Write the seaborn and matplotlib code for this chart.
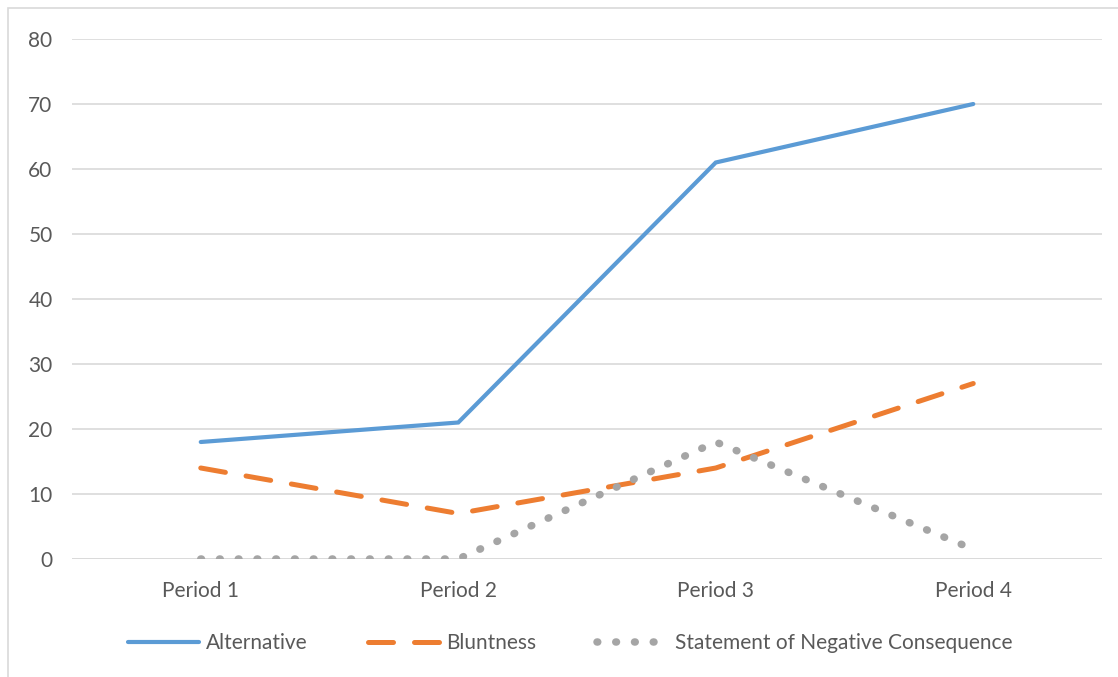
import matplotlib
matplotlib.use("Agg")
import matplotlib.pyplot as plt
import seaborn as sns
import pandas as pd
from matplotlib.patches import Rectangle

periods = ["Period 1", "Period 2", "Period 3", "Period 4"]
alternative = [18, 21, 61, 70]
bluntness = [14, 7, 14, 27]
negative_consequence = [0, 0, 18, 1.5]
series_names = ["Alternative", "Bluntness", "Statement of Negative Consequence"]
y_ticks = [0, 10, 20, 30, 40, 50, 60, 70, 80]

df = pd.DataFrame({
    "Period": periods * 3,
    "Value": alternative + bluntness + negative_consequence,
    "Series": [s for s in series_names for _ in periods],
})

sns.set_style("white")
plt.rcParams['font.family'] = ['Lato', 'DejaVu Sans']

colors = {"Alternative": "#5b9bd5", "Bluntness": "#ed7d31",
          "Statement of Negative Consequence": "#a5a5a5"}

fig = plt.figure(figsize=(11.18, 6.77), dpi=100)
ax = fig.add_axes([0.0644, 0.1743, 0.9213, 0.7681])

sns.lineplot(data=df, x="Period", y="Value", hue="Series", palette=colors,
             sort=False, ax=ax, legend=False)

styles = {
    "Alternative": dict(linestyle="-", linewidth=3.0),
    "Bluntness": dict(linestyle=(0, (5.0, 4.2)), linewidth=3.6),
    "Statement of Negative Consequence": dict(linestyle=(0, (0.1, 2.4)), linewidth=5.4),
}
for line, name in zip(ax.get_lines(), series_names):
    line.set_linestyle(styles[name]["linestyle"])
    line.set_linewidth(styles[name]["linewidth"])
    line.set_dash_capstyle("round")
    line.set_solid_capstyle("round")
    line.set_solid_joinstyle("miter")

ax.set_xlim(-0.5, 3.5)
ax.set_ylim(0, 80)
ax.set_yticks(y_ticks)
ax.yaxis.grid(True, color="#d9d9d9", linewidth=1.2)
ax.set_axisbelow(True)
for side in ["top", "right", "left", "bottom"]:
    ax.spines[side].set_visible(False)
ax.axhline(0, color="#d9d9d9", linewidth=1.2, zorder=0)
ax.set_xlabel("")
ax.set_ylabel("")
ax.tick_params(axis="both", length=0, labelsize=15, labelcolor="#595959")
ax.tick_params(axis="y", pad=14)
ax.tick_params(axis="x", pad=16)

handles = []
for name in series_names:
    h, = ax.plot([], [], color=colors[name], linewidth=styles[name]["linewidth"],
                 linestyle=styles[name]["linestyle"], dash_capstyle="round",
                 solid_capstyle="round")
    handles.append(h)
leg = fig.legend(handles, series_names, loc="center", bbox_to_anchor=(0.51, 0.05),
                 ncol=3, frameon=False, fontsize=15, handlelength=3.4,
                 handletextpad=0.35, columnspacing=2.9)
for t in leg.get_texts():
    t.set_color("#595959")

fig.patches.append(Rectangle((0.007, -0.01), 1.1, 0.998, transform=fig.transFigure,
                             fill=False, edgecolor="#d9d9d9", linewidth=1.2))

fig.savefig("out.png", dpi=100)
